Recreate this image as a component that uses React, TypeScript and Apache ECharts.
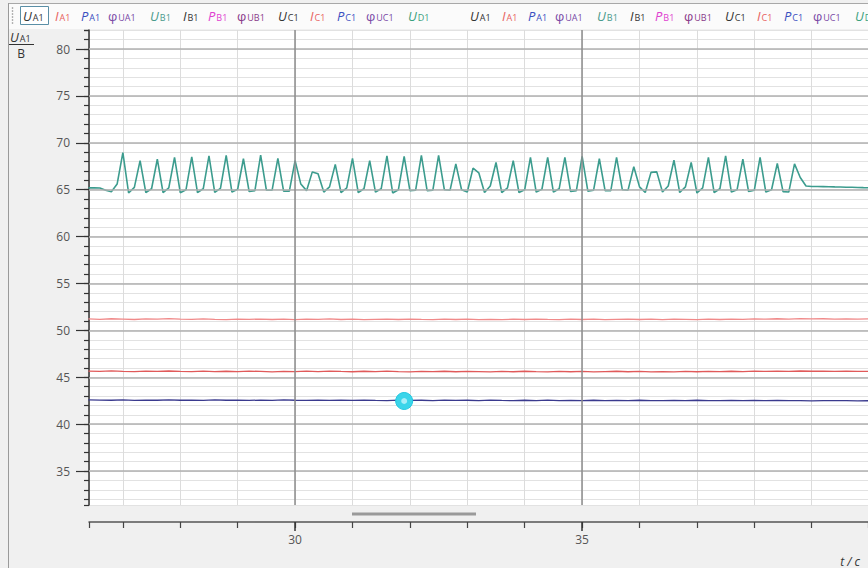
import React, { useEffect, useRef } from "react";
import * as echarts from "echarts";

// ---- data ----
// teal channel, sampled every 0.1 s from t = 26.4 s
const tealValues = [
  65.2, 65.2, 65.18, 64.95, 64.78, 65.6, 68.95, 64.65, 65.25, 68.1,
  64.7, 65.1, 68.25, 64.7, 65.2, 68.45, 64.68, 65.0, 68.5, 64.7,
  65.1, 68.6, 64.72, 65.15, 68.65, 64.75, 65.05, 68.3, 64.8, 64.9,
  68.7, 64.95, 64.95, 68.35, 64.85, 64.85, 68.1, 65.6, 64.9, 66.9,
  66.7, 64.75, 65.3, 67.7, 64.7, 65.2, 68.35, 64.7, 65.1, 68.1,
  64.75, 65.1, 68.6, 64.65, 65.0, 68.55, 64.9, 64.95, 68.65, 64.9,
  64.95, 68.65, 65.0, 64.95, 67.75, 65.0, 64.75, 67.3, 66.8, 64.7,
  65.4, 67.9, 64.7, 65.2, 68.1, 64.7, 65.0, 68.45, 64.75, 65.05,
  68.45, 64.75, 65.1, 68.45, 64.8, 64.9, 68.55, 64.85, 64.95, 68.3,
  64.9, 64.9, 68.45, 65.0, 64.95, 67.45, 65.3, 64.7, 66.85, 66.9,
  64.75, 65.4, 68.15, 64.7, 65.3, 67.9, 64.65, 65.2, 68.45, 64.7,
  65.1, 68.6, 64.75, 65.0, 68.25, 64.8, 64.95, 68.45, 64.75, 65.0,
  67.8, 64.8, 64.75, 67.75, 66.3, 65.4, 65.35, 65.34, 65.33, 65.32,
  65.3, 65.29, 65.27, 65.26, 65.24, 65.22, 65.21,
];
const tealStart = 26.4;
const tealStep = 0.1;

// slow channels, sampled every 0.2 s from t = 26.4 s
const lightRedValues = [
  51.22, 51.18, 51.24, 51.2, 51.16, 51.23, 51.19, 51.25, 51.2, 51.17,
  51.22, 51.18, 51.15, 51.2, 51.17, 51.21, 51.16, 51.19, 51.15, 51.2,
  51.17, 51.22, 51.16, 51.19, 51.15, 51.18, 51.2, 51.16, 51.21, 51.17,
  51.15, 51.19, 51.16, 51.2, 51.15, 51.18, 51.14, 51.19, 51.16, 51.2,
  51.17, 51.15, 51.2, 51.16, 51.19, 51.15, 51.18, 51.21, 51.16, 51.19,
  51.15, 51.2, 51.17, 51.14, 51.19, 51.16, 51.2, 51.18, 51.22, 51.2,
  51.24, 51.21, 51.25, 51.22, 51.24, 51.21, 51.23, 51.2, 51.22,
];
const redValues = [
  45.66, 45.62, 45.68, 45.63, 45.6, 45.66, 45.62, 45.67, 45.63, 45.6,
  45.65, 45.61, 45.64, 45.6, 45.66, 45.62, 45.58, 45.63, 45.6, 45.65,
  45.61, 45.66, 45.62, 45.59, 45.64, 45.6, 45.65, 45.61, 45.58, 45.63,
  45.6, 45.64, 45.59, 45.63, 45.6, 45.57, 45.62, 45.59, 45.64, 45.6,
  45.58, 45.63, 45.59, 45.62, 45.58, 45.61, 45.64, 45.59, 45.62, 45.58,
  45.61, 45.57, 45.62, 45.59, 45.63, 45.6, 45.64, 45.61, 45.66, 45.62,
  45.66, 45.63, 45.67, 45.64, 45.66, 45.63, 45.65, 45.62, 45.64,
];
const blueValues = [
  42.6, 42.57, 42.55, 42.58, 42.54, 42.57, 42.55, 42.59, 42.55, 42.57,
  42.54, 42.58, 42.55, 42.56, 42.53, 42.57, 42.54, 42.58, 42.55, 42.53,
  42.57, 42.54, 42.56, 42.53, 42.57, 42.54, 42.52, 42.56, 42.53, 42.55,
  42.52, 42.56, 42.53, 42.55, 42.52, 42.56, 42.53, 42.51, 42.55, 42.52,
  42.56, 42.52, 42.54, 42.51, 42.55, 42.52, 42.54, 42.51, 42.55, 42.52,
  42.5, 42.54, 42.51, 42.55, 42.52, 42.5, 42.54, 42.51, 42.53, 42.5,
  42.53, 42.5, 42.52, 42.49, 42.52, 42.5, 42.51, 42.49, 42.5,
];
const slowStart = 26.4;
const slowStep = 0.2;

const cursorPoint = [31.9, 42.47];

const xMin = 26.41;
const xMax = 39.98;
const yMin = 31.38;
const yMax = 82.03;
const xTickLabels = [30, 35];
const yTickLabels = [35, 40, 45, 50, 55, 60, 65, 70, 75, 80];

const legendItems = [
  ["U", "A1"], ["I", "A1"], ["P", "A1"], ["φ", "UA1"], ["U", "B1"], ["I", "B1"],
  ["P", "B1"], ["φ", "UB1"], ["U", "C1"], ["I", "C1"], ["P", "C1"], ["φ", "UC1"], ["U", "D1"],
];
const legendColors = [
  "#333333", "#e8615e", "#3a4fc0", "#7a4aa6", "#4a9a8c", "#333333",
  "#e040d0", "#8a3a8a", "#333333", "#e8615e", "#3a4fc0", "#7a4aa6", "#3aa07e",
];

const FONT = "'Open Sans', 'DejaVu Sans', sans-serif";

function toPairs(values: number[], start: number, step: number) {
  return values.map((v, i) => [Number((start + i * step).toFixed(2)), v]);
}

function subText(main: string, sub: string, color: string, x: number, y: number, italic = true, size = 13) {
  return {
    type: "text",
    x,
    y,
    z: 10,
    style: {
      text: `{m|${main}}{s|${sub}}`,
      verticalAlign: "middle",
      rich: {
        m: {
          fill: color,
          fontSize: size,
          fontStyle: italic ? "italic" : "normal",
          fontFamily: FONT,
          lineHeight: 16,
          verticalAlign: "bottom",
        },
        s: {
          fill: color,
          fontSize: 9,
          fontFamily: FONT,
          lineHeight: 5,
          verticalAlign: "bottom",
          padding: [0, 0, 0, 1],
        },
      },
    },
  };
}

export default function App() {
  const ref = useRef<HTMLDivElement>(null);

  useEffect(() => {
    if (!ref.current) return;
    const chart = echarts.init(ref.current, null, { renderer: "svg" });

    const groupStarts = [23, 470];
    const itemOffsets = [0, 32, 58, 85, 127, 160, 185, 214, 255, 287, 314, 343, 385];
    const legendTexts: any[] = [];
    groupStarts.forEach((gx) => {
      legendItems.forEach(([m, s], i) => {
        legendTexts.push(subText(m, s, legendColors[i], gx + itemOffsets[i], 14, m !== "φ", 13));
      });
    });

    const gripDots: any[] = [];
    [8, 11, 14, 17, 20, 23].forEach((gy) => {
      gripDots.push({ type: "circle", z: 10, shape: { cx: 12.5, cy: gy, r: 0.8 }, style: { fill: "#aaaaaa" } });
    });

    const option: any = {
      animation: false,
      backgroundColor: "#f0f0f0",
      textStyle: { fontFamily: FONT },
      grid: {
        left: 89,
        right: 0,
        top: 30,
        bottom: 63,
        show: true,
        backgroundColor: "#ffffff",
        borderWidth: 0,
        containLabel: false,
      },
      xAxis: [
        {
          type: "value",
          min: xMin,
          max: xMax,
          minInterval: 1,
          maxInterval: 1,
          position: "bottom",
          offset: 17,
          axisLine: { show: true, onZero: false, lineStyle: { color: "#555555", width: 1.5 } },
          axisTick: { show: true, length: 6, lineStyle: { color: "#444444", width: 1.2 } },
          axisLabel: { show: false },
          splitLine: { show: true, lineStyle: { color: "#dcdcdc", width: 1 } },
        },
        {
          type: "value",
          min: xMin,
          max: xMax,
          minInterval: 5,
          maxInterval: 5,
          position: "bottom",
          offset: 17,
          axisLine: { show: false, onZero: false },
          axisTick: { show: true, length: 9, customValues: xTickLabels, lineStyle: { color: "#333333", width: 1.5 } },
          axisLabel: {
            show: true,
            customValues: xTickLabels,
            margin: 11,
            color: "#555555",
            fontSize: 12,
            fontFamily: FONT,
          },
          splitLine: { show: false },
        },
      ],
      yAxis: [
        {
          type: "value",
          min: yMin,
          max: yMax,
          minInterval: 1,
          maxInterval: 1,
          position: "left",
          axisLine: { show: true, onZero: false, lineStyle: { color: "#333333", width: 1.5 } },
          axisTick: { show: true, length: 5, lineStyle: { color: "#333333", width: 1.2 } },
          axisLabel: { show: false },
          splitLine: { show: true, lineStyle: { color: "#e2e2e2", width: 1 } },
        },
        {
          type: "value",
          min: yMin,
          max: yMax,
          minInterval: 5,
          maxInterval: 5,
          position: "left",
          axisLine: { show: false, onZero: false },
          axisTick: { show: true, length: 13, customValues: yTickLabels, lineStyle: { color: "#333333", width: 1.2 } },
          axisLabel: {
            show: true,
            customValues: yTickLabels,
            margin: 19,
            color: "#555555",
            fontSize: 12,
            fontFamily: FONT,
          },
          splitLine: { show: false },
        },
      ],
      series: [
        {
          type: "line",
          name: "grid",
          data: [],
          silent: true,
          xAxisIndex: 0,
          yAxisIndex: 0,
          z: 1,
          markLine: {
            silent: true,
            symbol: "none",
            animation: false,
            label: { show: false },
            data: [
              ...yTickLabels.map((v) => ({ yAxis: v, lineStyle: { color: "#b0b0b0", width: 1.5, type: "solid" } })),
              ...xTickLabels.map((v) => ({ xAxis: v, lineStyle: { color: "#8c8c8c", width: 1.5, type: "solid" } })),
            ],
          },
        },
        {
          type: "line",
          name: "lightRed",
          data: toPairs(lightRedValues, slowStart, slowStep),
          showSymbol: false,
          z: 3,
          lineStyle: { color: "#f08a8a", width: 1.3 },
          itemStyle: { color: "#f08a8a" },
        },
        {
          type: "line",
          name: "red",
          data: toPairs(redValues, slowStart, slowStep),
          showSymbol: false,
          z: 3,
          lineStyle: { color: "#e05a5a", width: 1.3 },
          itemStyle: { color: "#e05a5a" },
        },
        {
          type: "line",
          name: "blue",
          data: toPairs(blueValues, slowStart, slowStep),
          showSymbol: false,
          z: 3,
          lineStyle: { color: "#3a3a8e", width: 1.3 },
          itemStyle: { color: "#3a3a8e" },
          markPoint: {
            silent: true,
            animation: false,
            label: { show: false },
            data: [
              {
                coord: cursorPoint,
                symbol: "circle",
                symbolSize: 17,
                itemStyle: { color: "#3ad5ea", borderColor: "#22c8e0", borderWidth: 1 },
              },
              {
                coord: cursorPoint,
                symbol: "circle",
                symbolSize: 6,
                itemStyle: { color: "#a8eef8" },
              },
            ],
          },
        },
        {
          type: "line",
          name: "teal",
          data: toPairs(tealValues, tealStart, tealStep),
          showSymbol: false,
          z: 4,
          lineStyle: { color: "#3c9c8e", width: 1.6 },
          itemStyle: { color: "#3c9c8e" },
        },
      ],
      graphic: [
        { type: "rect", z: 5, shape: { x: 9, y: 4, width: 859, height: 25 }, style: { fill: "#fbfbfb" } },
        { type: "line", z: 6, shape: { x1: 8, y1: 3.5, x2: 868, y2: 3.5 }, style: { stroke: "#a8a8a8", lineWidth: 1 } },
        { type: "line", z: 6, shape: { x1: 8.5, y1: 3, x2: 8.5, y2: 568 }, style: { stroke: "#9a9a9a", lineWidth: 1 } },
        ...gripDots,
        { type: "rect", z: 9, shape: { x: 20.5, y: 6.5, width: 28, height: 18 }, style: { fill: "#ffffff", stroke: "#5a8fa6", lineWidth: 1 } },
        ...legendTexts,
        subText("U", "A1", "#333333", 10, 35, true, 13),
        { type: "line", z: 10, shape: { x1: 9, y1: 44.5, x2: 34, y2: 44.5 }, style: { stroke: "#333333", lineWidth: 1 } },
        {
          type: "text",
          z: 10,
          x: 21,
          y: 53,
          style: { text: "B", fill: "#333333", fontSize: 12, fontFamily: FONT, align: "center", verticalAlign: "middle" },
        },
        {
          type: "text",
          z: 10,
          x: 860,
          y: 561,
          style: { text: "t / c", fill: "#333333", fontSize: 12, fontStyle: "italic", fontFamily: FONT, align: "right", verticalAlign: "middle" },
        },
        { type: "line", z: 10, shape: { x1: 352, y1: 514, x2: 476, y2: 514 }, style: { stroke: "#9a9a9a", lineWidth: 3 } },
      ],
    };

    chart.setOption(option);
    return () => {
      chart.dispose();
    };
  }, []);

  return (
    <div
      ref={ref}
      style={{ position: "fixed", left: 0, top: 0, width: 868, height: 568, background: "#f0f0f0" }}
    />
  );
}
